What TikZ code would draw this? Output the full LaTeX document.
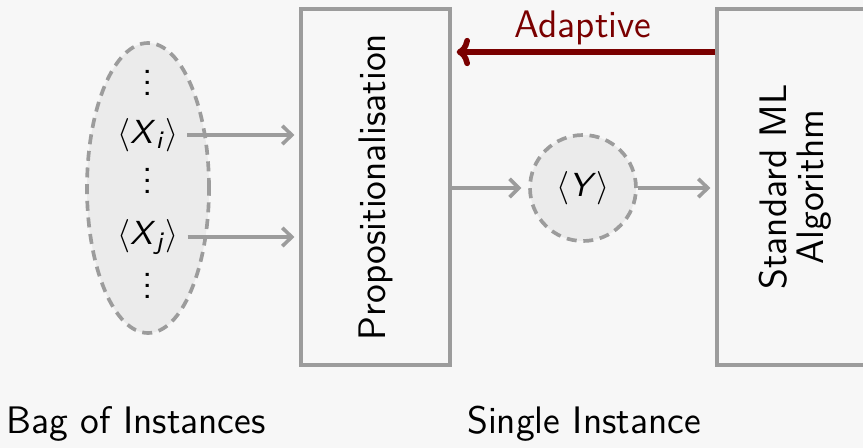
\documentclass[tikz,border=0pt]{standalone}
\usepackage{fontspec}
\usetikzlibrary{arrows.meta,shapes.geometric,calc}
\renewcommand\familydefault{\sfdefault}
\definecolor{bg}{HTML}{F7F7F7}
\definecolor{ln}{HTML}{9C9C9C}
\definecolor{fillg}{HTML}{EBEBEB}
\definecolor{dred}{HTML}{7A0000}
\newcommand\sv[1]{\mbox{\textit{#1}}}
\newcommand\ssub[1]{\mbox{\fontsize{7.5}{7.5}\selectfont\textit{#1}}}
\newcommand\svdots{\vbox{\baselineskip3.3pt\lineskiplimit0pt\hbox{.}\hbox{.}\hbox{.}}}
\begin{document}
\begin{tikzpicture}[x=0.3pt,y=-0.3pt,
  font=\fontsize{11.5}{13}\selectfont,
  box/.style={draw=ln, line width=1pt, inner sep=0pt},
  flow/.style={draw=ln, line width=1.1pt, -{Straight Barb[length=2.8pt,width=5.5pt]}},
  adapt/.style={draw=dred, line width=1.7pt, -{To[length=4pt,width=8.5pt]}},
  bag/.style={draw=ln, dash pattern=on 3pt off 2pt, line width=1.1pt, fill=fillg, inner sep=0pt},
  intext/.style={inner sep=0.5pt, font=\fontsize{10}{12}\selectfont},
  dotsnode/.style={inner sep=0pt, anchor=base, font=\fontsize{11.5}{13}\selectfont}]
\fill[bg] (0,0) rectangle (863,448);
\clip (0,0) rectangle (863,448);
% bag ellipse
\node[bag, ellipse, minimum width=36.6pt, minimum height=87pt] (bagell) at (148,188) {};
\node[dotsnode] (d1) at (148,95) {\svdots};
\node[intext] (xi) at (148,135) {$\langle\sv{X}_{\ssub{i}}\rangle$};
\node[dotsnode] (d2) at (148,193) {\svdots};
\node[intext] (xj) at (148,237) {$\langle\sv{X}_{\ssub{j}}\rangle$};
\node[dotsnode] (d3) at (148,298) {\svdots};
% boxes
\node[box, minimum width=44.7pt, minimum height=106.8pt] (prop) at (375.5,187) {};
\node[rotate=90] (proptext) at (prop) {Propositionalisation};
\node[box, minimum width=46.8pt, minimum height=106.8pt] (ml) at (795,187) {};
\node[rotate=90, align=center, font=\fontsize{11.5}{11}\selectfont] (mltext) at (ml) {Standard ML\\Algorithm};
% single instance
\node[bag, circle, minimum size=31.8pt, font=\fontsize{10}{12}\selectfont] (y) at (583,188) {$\langle\sv{Y}\rangle$};
% arrows
\draw[flow, shorten <=2pt, shorten >=1.5pt] (xi.east) -- (prop.west |- xi);
\draw[flow, shorten <=2pt, shorten >=1.5pt] (xj.east) -- (prop.west |- xj);
\draw[flow, shorten >=2pt] (prop.east |- y) -- (y.west);
\draw[flow, shorten >=1.5pt] (y.east) -- (ml.west |- y);
\coordinate (ay) at (0,52);
\draw[adapt, shorten >=1.5pt] (ml.west |- ay) -- (prop.east |- ay);
\node[text=dred] (adlabel) at (583,28) {Adaptive};
% captions
\node (bagcap) at (136,424) {Bag of Instances};
\node (singlecap) at (584,424) {Single Instance};
\end{tikzpicture}
\end{document}
